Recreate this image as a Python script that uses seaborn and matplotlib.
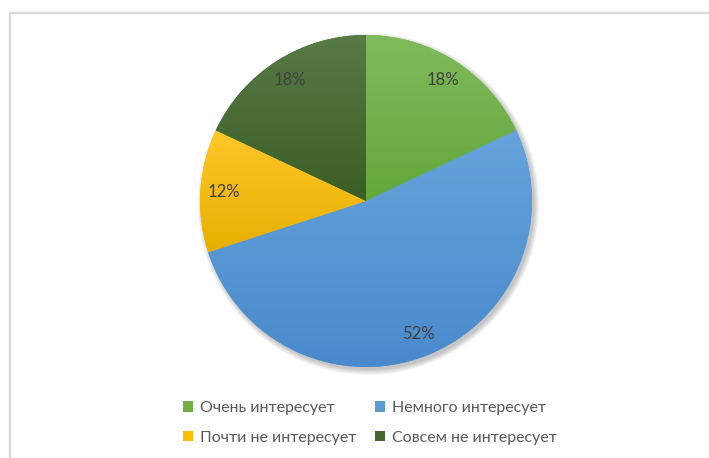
import numpy as np
import matplotlib
matplotlib.use("Agg")
import matplotlib.pyplot as plt
from matplotlib.patches import Circle, Patch
from matplotlib.lines import Line2D
import matplotlib.colors as mcolors
import seaborn as sns

# Survey answers and their shares (percent)
categories = ["Очень интересует", "Немного интересует",
              "Почти не интересует", "Совсем не интересует"]
shares = [18, 52, 12, 18]

# Top / bottom shades of each slice's vertical gradient
top_colors = ["#7FBA5B", "#66A3DC", "#FFC729", "#587A45"]
bottom_colors = ["#64A83C", "#4A8ACC", "#E6B000", "#3A5E25"]
base_colors = ["#70AD47", "#5B9BD5", "#FFC000", "#43682B"]

sns.set_theme(style="white")
plt.rcParams["font.family"] = ["Lato", "DejaVu Sans"]
palette = sns.color_palette(base_colors)

W, H = 709, 458
fig = plt.figure(figsize=(W / 100, H / 100), dpi=100)
ax = fig.add_axes([0, 0, 1, 1])
ax.set_xlim(0, W)
ax.set_ylim(0, H)
ax.set_aspect("equal")
ax.axis("off")

cx, cy, r = 366, H - 201, 166

# soft drop shadow under the pie
for k in range(10):
    ax.add_patch(Circle((cx + 2.5, cy - 3), r + 5 - k * 0.6,
                        facecolor="black", edgecolor="none",
                        alpha=0.025, zorder=1))

wedges, texts, autotexts = ax.pie(
    shares, colors=palette, startangle=90, counterclock=False,
    center=(cx, cy), radius=r, autopct="%1.0f%%", pctdistance=0.86,
    wedgeprops=dict(linewidth=0, zorder=2),
    textprops=dict(color="#404040", fontsize=12))
ax.set_xlim(0, W)
ax.set_ylim(0, H)

# vertical gradient fill clipped to each wedge
for w, c0, c1 in zip(wedges, top_colors, bottom_colors):
    ext = w.get_path().get_extents(w.get_patch_transform())
    cmap = mcolors.LinearSegmentedColormap.from_list("g", [c1, c0])
    grad = np.linspace(0, 1, 256).reshape(-1, 1)
    im = ax.imshow(grad, cmap=cmap, origin="lower", aspect="auto",
                   extent=[ext.x0, ext.x1, ext.y0, ext.y1], zorder=2.5,
                   interpolation="bilinear")
    im.set_clip_path(w)

for t in autotexts:
    t.set_zorder(5)

# chart-area frame (left and top edges)
fig.add_artist(Line2D([9.5 / W, 9.5 / W, 1.0], [0.0, 1 - 12.5 / H, 1 - 12.5 / H],
                      transform=fig.transFigure, color="#D9D9D9", linewidth=1.6))

# legend laid out row by row (matplotlib fills columns first)
order = [0, 2, 1, 3]
handles = [Patch(facecolor=palette[i], edgecolor="none") for i in order]
labels = [categories[i] for i in order]
fig.legend(handles, labels, ncol=2, loc="center",
           bbox_to_anchor=(370 / W, 1 - 423 / H), frameon=False,
           fontsize=11.5, labelcolor="#595959", handlelength=0.6,
           handleheight=0.6, handletextpad=0.45, columnspacing=1.2,
           labelspacing=0.98)

fig.savefig("out.png", dpi=100)
